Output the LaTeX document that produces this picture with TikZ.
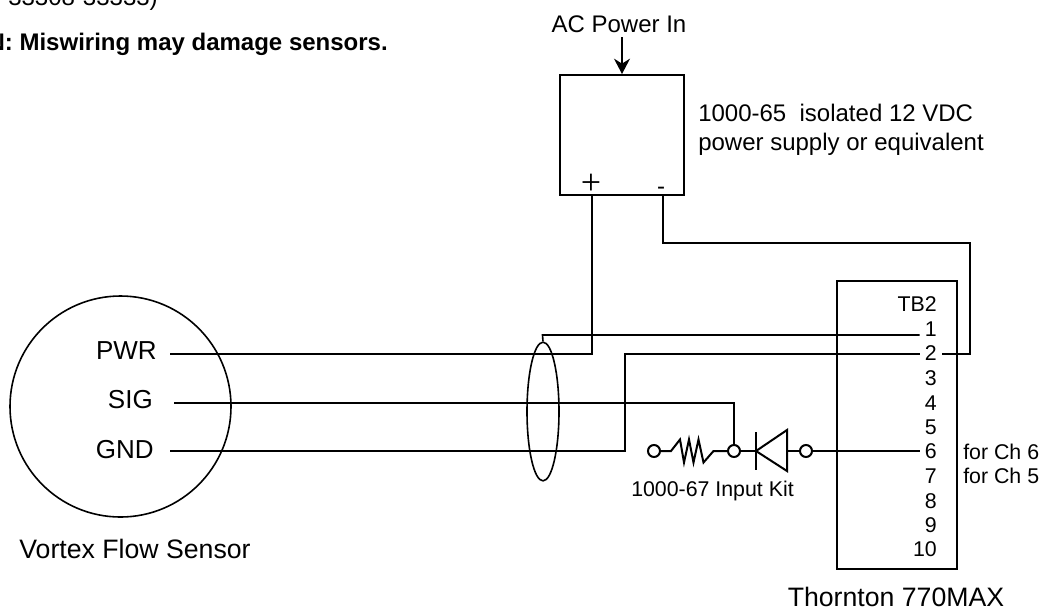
\documentclass[tikz,border=0pt]{standalone}
\usepackage{fontspec}
\setmainfont{Liberation Sans}
\newfontfamily\plusfont{Liberation Serif}
\usetikzlibrary{arrows.meta,positioning,shapes.geometric}
\tikzset{
  wire/.style={black,line width=1.5pt},
  thinwire/.style={black,line width=1.2pt},
  hugetext/.style={font=\fontsize{20}{22}\selectfont},
  bigtext/.style={font=\fontsize{18}{22}\selectfont},
  smalltext/.style={font=\fontsize{16}{18}\selectfont},
  tbnum/.style={smalltext,anchor=east,inner ysep=0pt,inner xsep=3.75pt},
  sensorlabel/.style={font=\fontsize{19.5}{22}\selectfont,anchor=east,inner ysep=0pt},
  pin/.style={circle,draw,wire,fill=white,inner sep=0pt,minimum size=9pt}
}
\begin{document}
\begin{tikzpicture}[x=0.75pt,y=-0.75pt]
\useasboundingbox (0,0) rectangle (1042,612);
% cut off text at the top
\node[bigtext,anchor=base west,inner sep=0pt] (partno) at (8,5.5) {33308-33333)};
\node[anchor=base east,inner sep=0pt,font=\fontsize{18}{22}\selectfont\bfseries] (caution) at (388,50) {N: Miswiring may damage sensors.};
% supply
\node[bigtext] (ac) at (619,24) {AC Power In};
\node[draw,wire,minimum width=93pt,minimum height=90pt,inner sep=0pt] (psu) at (622,135) {};
\node[bigtext,anchor=west,align=left,inner sep=0pt] (psutext) at (698,130) {1000-65\ \ isolated 12 VDC\\power supply or equivalent};
\node[inner sep=0pt,font=\fontsize{27}{27}\selectfont\plusfont] (plus) at (591,184) {+};
\node[bigtext,inner sep=0pt] (minus) at (661,191) {-};
\draw[wire,-{Stealth[length=11.5pt,width=12pt]}] (ac.south -| psu.north) -- (psu.north);
% sensor
\node[circle,draw,thinwire,minimum size=165.75pt,inner sep=0pt] (sensor) at (120.5,406.5) {};
\node[sensorlabel,inner xsep=10pt] (pwr) at (170.3,351) {PWR};
\node[sensorlabel,inner xsep=15.75pt] (sig) at (174,400) {SIG};
\node[sensorlabel,inner xsep=12pt] (gnd) at (170,450) {GND};
\node[hugetext] (sensorname) at (135,549) {Vortex Flow Sensor};
\node[ellipse,draw,thinwire,minimum width=24pt,minimum height=104pt,inner sep=0pt] (shield) at (543,411.5) {};
% terminal block
\node[draw,wire,minimum width=90pt,minimum height=216pt,inner sep=0pt] (tb) at (897,425) {};
\node[tbnum] (tbname) at (942,304) {TB2};
\node[tbnum] (t1) at (942,329) {1};
\node[tbnum] (t2) at (942,353.5) {2};
\node[tbnum] (t3) at (942,378) {3};
\node[tbnum] (t4) at (942,403) {4};
\node[tbnum] (t5) at (942,427) {5};
\node[tbnum] (t6) at (942,451) {6};
\node[tbnum] (t7) at (942,476) {7};
\node[tbnum] (t8) at (942,501) {8};
\node[tbnum] (t9) at (942,525) {9};
\node[tbnum] (t10) at (942,549) {10};
\node[smalltext,anchor=west,inner sep=0pt] (ch6) at (963,452) {for Ch 6};
\node[smalltext,anchor=west,inner sep=0pt] (ch5) at (963,476) {for Ch 5};
\node[hugetext] (tbtitle) at (896,597) {Thornton 770MAX};
% input kit
\node[pin] (a) at (654,451) {};
\node[pin] (b) at (734,451) {};
\node[pin] (c) at (806,451) {};
\node[smalltext] (kit) at (712.5,491) {1000-67 Input Kit};
\coordinate (dbar) at (756,451);
\coordinate (dbase) at (787,451);
\coordinate (minuspin) at (663,195);
\coordinate (pluspin) at (592,195);
\draw[wire] (a) -- (671,451) -- (680,439.5) -- (684,462.5) -- (689,439.5) -- (693.5,462.5) -- (698.5,439.5) -- (703.5,462.5) -- (713.5,451) -- (b);
\draw[wire] (b) -- (dbar);
\draw[wire] (756,432) -- (756,470);
\draw[wire,line join=miter] (dbar) -- (787,430) -- (787,471) -- cycle;
\draw[wire] (dbase) -- (c);
\draw[thinwire] (c) -- (t6.west);
% wiring
\draw[wire] ([yshift=-2.25pt]pwr.east) -| (pluspin);
\draw[wire] ([yshift=-2.25pt]sig.east) -| (b);
\draw[wire] ([yshift=-0.75pt]gnd.east) -- (625,451) |- (t2.west);
\draw[thinwire] (shield.north) -- (542.5,335) -- ([yshift=-4.5pt]t1.west);
\draw[wire] (minuspin) |- (970,243) |- (t2.east);
\end{tikzpicture}
\end{document}
